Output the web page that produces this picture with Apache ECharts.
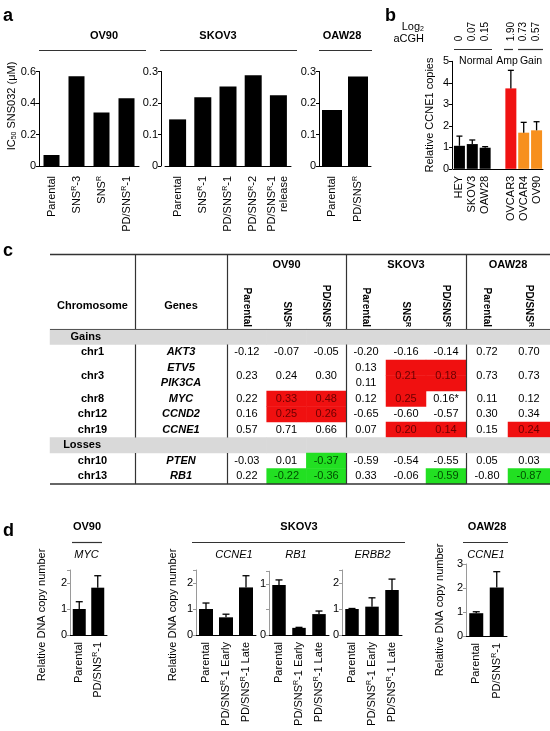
<!DOCTYPE html>
<html><head><meta charset="utf-8">
<script src="https://cdn.jsdelivr.net/npm/echarts@6/dist/echarts.min.js"></script>
<style>html,body{margin:0;padding:0;background:#fff}#c{width:550px;height:731px}</style>
</head><body><div id="c"></div>
<script>
const FONT = '"Liberation Sans", Arial, Helvetica, sans-serif';

// ---------- Panel a: IC50 SNS032 ----------
const aGroupNames = ['OV90', 'SKOV3', 'OAW28'];
const aOV90Cats = ['Parental', 'SNS^R-3', 'SNS^R', 'PD/SNS^R-1'];
const aOV90Vals = [0.07, 0.57, 0.34, 0.43];
const aSKOV3Cats = ['Parental', 'SNS^R-1', 'PD/SNS^R-1', 'PD/SNS^R-2', 'PD/SNS^R-1\nrelease'];
const aSKOV3Vals = [0.148, 0.218, 0.252, 0.288, 0.225];
const aOAW28Cats = ['Parental', 'PD/SNS^R'];
const aOAW28Vals = [0.178, 0.284];

// ---------- Panel b: relative CCNE1 copies ----------
const bCats = ['HEY', 'SKOV3', 'OAW28', '', 'OVCAR3', 'OVCAR4', 'OV90'];
const bVals = [1.07, 1.15, 0.98, null, 3.74, 1.68, 1.79];
const bErr = [0.45, 0.19, 0.05, null, 0.84, 0.48, 0.40];
const bAcgh = ['0', '0.07', '0.15', '', '1.90', '0.73', '0.57'];
const bClass = ['normal', 'normal', 'normal', '', 'amp', 'gain', 'gain'];
const bClassNames = ['Normal', 'Amp', 'Gain'];

// ---------- Panel c: table ----------
const tRows = ['Gains', 'chr1', 'chr3', 'chr3-2', 'chr8', 'chr12', 'chr19', 'Losses', 'chr10', 'chr13'];
const tBandRows = ['Gains', 'Losses'];
const tChrom = ['Gains', 'chr1', 'chr3', '', 'chr8', 'chr12', 'chr19', 'Losses', 'chr10', 'chr13'];
const tGenes = ['', 'AKT3', 'ETV5', 'PIK3CA', 'MYC', 'CCND2', 'CCNE1', '', 'PTEN', 'RB1'];
const tChromHeader = ['Chromosome'];
const tGenesHeader = ['Genes'];
const tGroupNames = ['OV90', 'SKOV3', 'OAW28'];
const tOV90Cols = ['Parental', 'SNS^R', 'PD/SNS^R'];
const tSKOV3Cols = ['Parental', 'SNS^R', 'PD/SNS^R'];
const tOAW28Cols = ['Parental', 'PD/SNS^R'];
const tOV90 = [[], ['-0.12','-0.07','-0.05'], ['0.23','0.24','0.30'], ['','',''], ['0.22','0.33','0.48'],
  ['0.16','0.25','0.26'], ['0.57','0.71','0.66'], [], ['-0.03','0.01','-0.37'], ['0.22','-0.22','-0.36']];
const tOV90Hi = ['', '---', '---', '---', '-rr', '-rr', '---', '', '--g', '-gg'];
const tSKOV3 = [[], ['-0.20','-0.16','-0.14'], ['0.13','0.21','0.18'], ['0.11','',''], ['0.12','0.25','0.16*'],
  ['-0.65','-0.60','-0.57'], ['0.07','0.20','0.14'], [], ['-0.59','-0.54','-0.55'], ['0.33','-0.06','-0.59']];
const tSKOV3Hi = ['', '---', '-rr', '-rr', '-r-', '---', '-rr', '', '---', '--g'];
const tOAW28 = [[], ['0.72','0.70'], ['0.73','0.73'], ['',''], ['0.11','0.12'], ['0.30','0.34'],
  ['0.15','0.24'], [], ['0.05','0.03'], ['-0.80','-0.87']];
const tOAW28Hi = ['', '--', '--', '--', '--', '--', '-r', '', '--', '-g'];

// ---------- Panel d: relative DNA copy number ----------
const dOV90Cats = ['Parental', 'PD/SNS^R-1'];
const dOV90MYC = [1.0, 1.82];
const dOV90MYCErr = [0.28, 0.46];
const dSKOV3Cats = ['Parental', 'PD/SNS^R-1 Early', 'PD/SNS^R-1 Late'];
const dSKOV3CCNE1 = [1.0, 0.68, 1.83];
const dSKOV3CCNE1Err = [0.23, 0.12, 0.45];
const dSKOV3RB1 = [0.98, 0.14, 0.41];
const dSKOV3RB1Err = [0.10, 0.01, 0.06];
const dSKOV3ERBB2 = [1.0, 1.09, 1.73];
const dSKOV3ERBB2Err = [0.02, 0.34, 0.42];
const dOAW28Cats = ['Parental', 'PD/SNS^R-1'];
const dOAW28CCNE1 = [0.95, 2.02];
const dOAW28CCNE1Err = [0.06, 0.66];
const dGeneNames = ['MYC', 'CCNE1', 'RB1', 'ERBB2', 'CCNE1'];
const dGroupNames = ['OV90', 'SKOV3', 'OAW28'];

// ================= build =================
const RICH = { sup: { fontSize: 7, verticalAlign: 'top', lineHeight: 7 }, sub: { fontSize: 7, verticalAlign: 'bottom', lineHeight: 7 } };
function supFmt(s) { return String(s).replace(/\^R/g, '{sup|R}'); }

const grids = [], xAxes = [], yAxes = [], series = [], gfx = [];

function errSeries(xi, yi, vals, errs, cap) {
  const data = [];
  vals.forEach((v, i) => { if (v != null) data.push([i, v, errs[i]]); });
  return {
    type: 'custom', xAxisIndex: xi, yAxisIndex: yi, z: 3, data,
    renderItem: (params, api) => {
      const x = api.value(0), v = api.value(1), e = api.value(2);
      const p0 = api.coord([x, v]), p1 = api.coord([x, v + e]);
      const st = { stroke: '#000', lineWidth: 1.3 };
      return { type: 'group', children: [
        { type: 'line', shape: { x1: p0[0], y1: p0[1], x2: p1[0], y2: p1[1] }, style: st },
        { type: 'line', shape: { x1: p1[0] - cap / 2, y1: p1[1], x2: p1[0] + cap / 2, y2: p1[1] }, style: st }
      ] };
    }
  };
}

function addBarPanel(o) {
  const gi = grids.length, xi = xAxes.length, yi = yAxes.length;
  grids.push({ left: o.left, top: o.top, width: o.width, height: o.height });
  xAxes.push({ type: 'category', gridIndex: gi, position: 'bottom', data: o.cats,
    axisLine: { show: true, onZero: false, lineStyle: { color: '#000', width: 1 } }, axisTick: { show: false },
    axisLabel: { rotate: 90, margin: o.labelMargin, fontSize: 11, color: '#000', fontFamily: FONT, interval: 0,
      lineHeight: 12, formatter: supFmt, rich: RICH } });
  yAxes.push({ type: 'value', gridIndex: gi, min: 0, max: o.max, interval: o.interval, offset: o.yOff || 0,
    axisLine: { show: true, lineStyle: { color: o.yColor || '#000', width: 1 } },
    axisTick: { show: true, length: 3, lineStyle: { color: o.yColor || '#000' } },
    splitLine: { show: false },
    axisLabel: { fontSize: 11, color: '#000', margin: 3, fontFamily: FONT, formatter: o.fmt } });
  series.push({ type: 'bar', xAxisIndex: xi, yAxisIndex: yi, barWidth: o.barWidth,
    data: o.vals.map((v, i) => ({ value: v == null ? '-' : v, itemStyle: { color: o.colors ? o.colors[i] : '#000' } })) });
  if (o.err) series.push(errSeries(xi, yi, o.vals, o.err, o.cap || 7));
  return gi;
}

// Panel a
const aTop = 71.5, aH = 94.5;
addBarPanel({ left: 39, top: aTop, width: 100, height: aH, cats: aOV90Cats, vals: aOV90Vals, max: 0.6, interval: 0.2, barWidth: 16, labelMargin: 10 });
addBarPanel({ left: 165, top: aTop, width: 126, height: aH, cats: aSKOV3Cats, vals: aSKOV3Vals, max: 0.3, interval: 0.1, barWidth: 17, yOff: 4, labelMargin: 10 });
addBarPanel({ left: 319, top: aTop, width: 52, height: aH, cats: aOAW28Cats, vals: aOAW28Vals, max: 0.3, interval: 0.1, barWidth: 20, labelMargin: 10 });

// Panel b
const bColorMap = { normal: '#000', amp: '#f01212', gain: '#f7901e', '': '#000' };
const bGi = addBarPanel({ left: 453, top: 61.3, width: 90, height: 107.5, cats: bCats, vals: bVals, err: bErr,
  colors: bClass.map(c => bColorMap[c]), max: 5, interval: 1, barWidth: 11, yOff: 1, labelMargin: 7, cap: 6 });
xAxes.push({ type: 'category', gridIndex: bGi, position: 'top', offset: 16, data: bAcgh,
  axisLine: { show: false }, axisTick: { show: false },
  axisLabel: { rotate: 90, margin: 4, fontSize: 10, color: '#000', fontFamily: FONT, interval: 0 } });

// Panel d
const intFmt = v => (Math.abs(v - Math.round(v)) < 1e-9 ? String(Math.round(v)) : '');
const dTop = 570, dH = 65, GRAY = '#9a9a9a';
addBarPanel({ left: 70, top: dTop, width: 37, height: dH, cats: dOV90Cats, vals: dOV90MYC, err: dOV90MYCErr, max: 2.5, interval: 1, barWidth: 13, labelMargin: 7, yColor: GRAY, fmt: intFmt, cap: 7 });
addBarPanel({ left: 196, top: dTop, width: 60, height: dH, cats: dSKOV3Cats, vals: dSKOV3CCNE1, err: dSKOV3CCNE1Err, max: 2.5, interval: 1, barWidth: 14, labelMargin: 7, yColor: GRAY, fmt: intFmt, cap: 7 });
addBarPanel({ left: 269, top: 571.25, width: 60, height: 63.75, cats: dSKOV3Cats, vals: dSKOV3RB1, err: dSKOV3RB1Err, max: 1.25, interval: 0.5, barWidth: 13.5, labelMargin: 7, yColor: GRAY, fmt: intFmt, cap: 7 });
addBarPanel({ left: 342, top: dTop, width: 60, height: dH, cats: dSKOV3Cats, vals: dSKOV3ERBB2, err: dSKOV3ERBB2Err, max: 2.5, interval: 1, barWidth: 13.5, labelMargin: 7, yColor: GRAY, fmt: intFmt, cap: 7 });
addBarPanel({ left: 466, top: 564, width: 41, height: 72, cats: dOAW28Cats, vals: dOAW28CCNE1, err: dOAW28CCNE1Err, max: 3, interval: 1, barWidth: 14, labelMargin: 7, yColor: GRAY, fmt: intFmt, cap: 7 });

// Panel c table (heatmap cells on category axes)
const tTop = 329, tH = 155, tLeft = 50, tRight = 550;
const HI_COL = { r: '#f01010', g: '#22e022', b: '#d9d9d9', '-': 'rgba(0,0,0,0)' };
const HI_TXT = { r: '#6a0000', g: '#004d00', '-': '#000' };
function isBand(ri) { return tBandRows.indexOf(tRows[ri]) >= 0; }
function isCont(ri) { return ri < tRows.length && tChrom[ri] === '' && !isBand(ri); }

function addTableGrid(left, width, cols, cells, hdrStyle) {
  const gi = grids.length, xi = xAxes.length, yi = yAxes.length;
  grids.push({ left, top: tTop, width, height: tH });
  xAxes.push({ type: 'category', gridIndex: gi, position: 'top', data: cols,
    axisLine: { show: false }, axisTick: { show: false }, axisLabel: Object.assign({ interval: 0, color: '#000', fontFamily: FONT,
      fontWeight: 'bold', formatter: supFmt, rich: RICH }, hdrStyle) });
  yAxes.push({ type: 'category', gridIndex: gi, data: tRows, inverse: true, show: false });
  series.push({ type: 'heatmap', xAxisIndex: xi, yAxisIndex: yi, data: cells, emphasis: { disabled: true },
    label: { show: true, formatter: p => p.data.t, fontSize: 11, fontFamily: FONT, color: '#000', align: 'center', verticalAlign: 'middle' } });
}
function numericCells(vals, his, ncols) {
  const data = [];
  for (let ri = 0; ri < tRows.length; ri++) {
    for (let ci = 0; ci < ncols; ci++) {
      if (isBand(ri)) { data.push({ value: [ci, ri, 0], t: '', itemStyle: { color: HI_COL.b } }); continue; }
      const t = vals[ri][ci], h = his[ri][ci];
      const merged = isCont(ri + 1) && vals[ri + 1][ci] === '';
      data.push({ value: [ci, ri, 0], t, itemStyle: { color: HI_COL[h] },
        label: { color: HI_TXT[h], position: merged ? ['50%', '100%'] : ['50%', '50%'] } });
    }
  }
  return data;
}
const chromCells = tChrom.map((t, ri) => isBand(ri)
  ? { value: [0, ri, 0], t, itemStyle: { color: HI_COL.b }, label: { fontWeight: 'bold', align: 'right', position: ['60%', '50%'] } }
  : { value: [0, ri, 0], t, itemStyle: { color: HI_COL['-'] }, label: { fontWeight: 'bold', position: isCont(ri + 1) ? ['50%', '100%'] : ['50%', '50%'] } });
const geneCells = tGenes.map((t, ri) => ({ value: [0, ri, 0], t, itemStyle: { color: isBand(ri) ? HI_COL.b : HI_COL['-'] },
  label: { fontWeight: 'bold', fontStyle: 'italic', position: ['50%', '50%'] } }));

const tChromHdr = { fontSize: 11, margin: 18 };
const tSubHdr = { fontSize: 10, rotate: 90, margin: 2 };
const tColDefs = [[50, 85], [135, 92], [227, 119], [346, 120], [466, 84]];
addTableGrid(tColDefs[0][0], tColDefs[0][1], tChromHeader, chromCells, tChromHdr);
addTableGrid(tColDefs[1][0], tColDefs[1][1], tGenesHeader, geneCells, tChromHdr);
addTableGrid(tColDefs[2][0], tColDefs[2][1], tOV90Cols, numericCells(tOV90, tOV90Hi, 3), tSubHdr);
addTableGrid(tColDefs[3][0], tColDefs[3][1], tSKOV3Cols, numericCells(tSKOV3, tSKOV3Hi, 3), tSubHdr);
addTableGrid(tColDefs[4][0], tColDefs[4][1], tOAW28Cols, numericCells(tOAW28, tOAW28Hi, 2), tSubHdr);

// ---------- decorations (text + rules) ----------
function txt(x, y, text, opt) {
  opt = opt || {};
  gfx.push({ type: 'text', x, y, rotation: opt.rot || 0, z: 10, style: Object.assign({ text, fill: '#000',
    font: (opt.style || '') + ' ' + (opt.weight || 'normal') + ' ' + (opt.size || 11) + 'px ' + FONT,
    align: opt.align || 'center', verticalAlign: 'middle', textAlign: opt.align || 'center', textVerticalAlign: 'middle' },
    opt.rich ? { rich: opt.rich } : {}) });
}
function line(x1, y1, x2, y2, w, c) {
  gfx.push({ type: 'line', z: 10, shape: { x1, y1, x2, y2 }, style: { stroke: c || '#333', lineWidth: w || 1 } });
}
// letters
txt(3, 16, 'a', { weight: 'bold', size: 18, align: 'left' });
txt(385, 16, 'b', { weight: 'bold', size: 18, align: 'left' });
txt(3, 251, 'c', { weight: 'bold', size: 18, align: 'left' });
txt(3, 531, 'd', { weight: 'bold', size: 18, align: 'left' });
// panel a headers
txt(104, 36, aGroupNames[0], { weight: 'bold' }); line(39, 50.5, 146, 50.5, 1.2);
txt(218, 36, aGroupNames[1], { weight: 'bold' }); line(160, 50.5, 297, 50.5, 1.2);
txt(342, 36, aGroupNames[2], { weight: 'bold' }); line(319, 50.5, 372, 50.5, 1.2);
txt(12, 106, 'IC{sub|50} SNS032 (μM)', { rot: Math.PI / 2, rich: { sub: { fontSize: 7, verticalAlign: 'bottom', lineHeight: 7 } } });
// panel b headers
txt(424, 27, 'Log{sub|2}', { align: 'right', rich: { sub: { fontSize: 7, verticalAlign: 'bottom', lineHeight: 7 } } });
txt(424, 39, 'aCGH', { align: 'right' });
line(454, 49.5, 492, 49.5, 1.2); line(504, 49.5, 513, 49.5, 1.2); line(518, 49.5, 543, 49.5, 1.2);
txt(476, 61, bClassNames[0], { size: 10.5 }); txt(507, 61, bClassNames[1], { size: 10.5 }); txt(531, 61, bClassNames[2], { size: 10.5 });
txt(430, 115, 'Relative CCNE1 copies', { rot: Math.PI / 2 });
// table rules
line(tLeft, 254.5, tRight, 254.5, 1.5, '#333');
line(tLeft, tTop + 0.5, tRight, tTop + 0.5, 1, '#555');
line(tLeft, 484, tRight, 484, 1.5, '#333');
const rowH = tH / tRows.length;
const segs = [[254.5, tTop]];
let s0 = null;
for (let ri = 0; ri <= tRows.length; ri++) {
  const band = ri < tRows.length ? isBand(ri) : true;
  if (!band && s0 === null) s0 = tTop + ri * rowH;
  if (band && s0 !== null) { segs.push([s0, tTop + ri * rowH]); s0 = null; }
}
tColDefs.slice(1).forEach(([x]) => segs.forEach(([y1, y2]) => line(x + 0.5, y1, x + 0.5, y2, 1.2, '#333')));
txt(286.5, 265, tGroupNames[0], { weight: 'bold' });
txt(406, 265, tGroupNames[1], { weight: 'bold' });
txt(508, 265, tGroupNames[2], { weight: 'bold' });
// panel d headers
txt(87, 526.5, dGroupNames[0], { weight: 'bold' }); line(72, 542.5, 102, 542.5, 1.2);
txt(299, 526.5, dGroupNames[1], { weight: 'bold' }); line(192, 542.5, 405, 542.5, 1.2);
txt(487, 526.5, dGroupNames[2], { weight: 'bold' }); line(463, 542.5, 508, 542.5, 1.2);
txt(86.5, 555, dGeneNames[0], { style: 'italic' });
txt(234, 555, dGeneNames[1], { style: 'italic' });
txt(296, 555, dGeneNames[2], { style: 'italic' });
txt(372.5, 555, dGeneNames[3], { style: 'italic' });
txt(486, 555, dGeneNames[4], { style: 'italic' });
txt(42, 615, 'Relative DNA copy number', { rot: Math.PI / 2 });
txt(173, 615, 'Relative DNA copy number', { rot: Math.PI / 2 });
txt(440, 610, 'Relative DNA copy number', { rot: Math.PI / 2 });

const chart = echarts.init(document.getElementById('c'), null, { renderer: 'canvas' });
chart.setOption({
  animation: false,
  backgroundColor: '#fff',
  textStyle: { fontFamily: FONT },
  grid: grids, xAxis: xAxes, yAxis: yAxes, series,
  graphic: { elements: gfx }
});
</script></body></html>
